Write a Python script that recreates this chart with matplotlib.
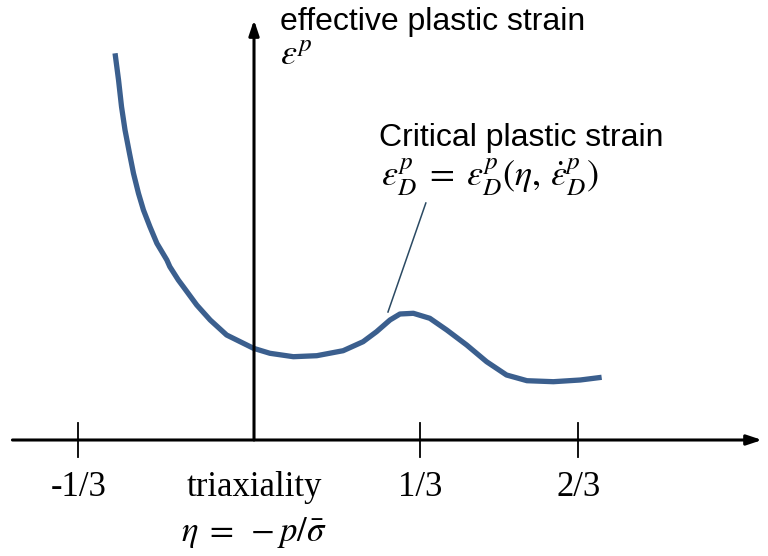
import numpy as np
import matplotlib.pyplot as plt

# Schematic: critical plastic strain vs. stress triaxiality
eta = [-0.279, -0.272, -0.266, -0.259, -0.250, -0.242, -0.232, -0.222, -0.209,
       -0.195, -0.175, -0.169, -0.152, -0.142, -0.115, -0.088, -0.055, -0.001,
       0.032, 0.079, 0.126, 0.179, 0.219, 0.246, 0.273, 0.293, 0.320, 0.353,
       0.387, 0.427, 0.467, 0.507, 0.548, 0.601, 0.655, 0.698]
strain = [3.867, 3.600, 3.333, 3.100, 2.867, 2.667, 2.467, 2.300, 2.133,
          1.967, 1.800, 1.733, 1.600, 1.533, 1.350, 1.200, 1.050, 0.917,
          0.867, 0.833, 0.843, 0.893, 0.983, 1.083, 1.200, 1.260, 1.267, 1.217,
          1.100, 0.950, 0.783, 0.650, 0.593, 0.583, 0.600, 0.627]

tick_pos = [-0.353, 0.333, 0.651]
tick_labels = ['-1/3', '1/3', '2/3']

plt.rcParams['mathtext.fontset'] = 'stix'

fig = plt.figure(figsize=(7.68, 5.56), dpi=100)
ax = fig.add_axes([0, 0, 1, 1])
ax.set_xlim(-0.51, 1.032)
ax.set_ylim(-1.16, 4.40)
ax.axis('off')

# axes with arrows
arrow = dict(arrowstyle='-|>,head_length=0.9,head_width=0.3', color='black',
             lw=2.2, shrinkA=0, shrinkB=0)
ax.annotate('', xy=(1.02, 0), xytext=(-0.485, 0), arrowprops=arrow)
ax.annotate('', xy=(0, 4.20), xytext=(0, 0), arrowprops=arrow)

for t in tick_pos:
    ax.plot([t, t], [-0.17, 0.17], color='black', lw=1.3)

ax.plot(eta, strain, color='#3b5f8e', lw=3.8, solid_capstyle='butt',
        solid_joinstyle='round')

# leader line to the curve
ax.plot([0.269, 0.345], [1.28, 2.37], color='#2b4a63', lw=1.1)

serif = 'Liberation Serif'
for t, lab in zip(tick_pos, tick_labels):
    ax.text(t, -0.48, lab, ha='center', va='center', fontsize=25, family=serif)
ax.text(0, -0.48, 'triaxiality', ha='center', va='center', fontsize=25, family=serif)
ax.text(0, -0.92, r'$\eta\;=\;-p/\bar{\sigma}$', ha='center', va='center', fontsize=25)

sans = 'Liberation Sans'
fig.text(280 / 768, 1 - 30 / 556, 'effective plastic strain', fontsize=23,
         family=sans, va='baseline')
fig.text(280 / 768, 1 - 64 / 556, r'$\varepsilon^p$', fontsize=26, va='baseline')
fig.text(379 / 768, 1 - 146 / 556, 'Critical plastic strain', fontsize=23,
         family=sans, va='baseline')
fig.text(381 / 768, 1 - 186 / 556,
         r'$\varepsilon_D^p\;=\;\varepsilon_D^p(\eta,\, \dot{\varepsilon}_D^p)$',
         fontsize=26, va='baseline')

fig.savefig('out.png', dpi=100)
